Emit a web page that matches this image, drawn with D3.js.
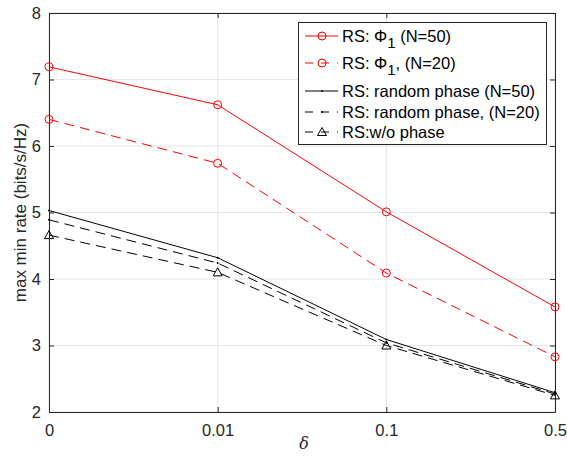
<!DOCTYPE html>
<head>
  <meta charset="utf-8">
  <script src="https://d3js.org/d3.v7.min.js"></script>
  <style>
    body { margin:0; background:#fff; }
    text { font-family: "Liberation Sans", Arial, sans-serif; }
  </style>
</head>
<body>
  <script>
    // data
    var deltas = ["0", "0.01", "0.1", "0.5"];
    var yTicks = [2, 3, 4, 5, 6, 7, 8];
    var phiN50 = [7.19, 6.62, 5.01, 3.58];
    var phiN20 = [6.40, 5.74, 4.09, 2.83];
    var randN50 = [5.03, 4.32, 3.09, 2.29];
    var randN20 = [4.89, 4.24, 3.04, 2.27];
    var noPhase = [4.66, 4.10, 3.00, 2.25];

    var series = [
      {values: phiN50, color: "#ff0000", dash: null, marker: "circle"},
      {values: phiN20, color: "#ff0000", dash: "10,6", marker: "circle"},
      {values: randN50, color: "#000", dash: null, marker: "dot"},
      {values: randN20, color: "#000", dash: "10,6", marker: "dot"},
      {values: noPhase, color: "#000", dash: "10,6", marker: "triangle"}
    ];

    var margin = {top: 13, right: 12, bottom: 44, left: 49},
        width = 567 - margin.left - margin.right,
        height = 456 - margin.top - margin.bottom;

    var svg = d3.select("body").append("svg")
        .attr("width", 567)
        .attr("height", 456);
    var g = svg.append("g")
        .attr("transform", "translate(" + margin.left + "," + margin.top + ")");

    var x = d3.scalePoint().domain(deltas).range([0, width]);
    var y = d3.scaleLinear().domain([2, 8]).range([height, 0]);

    // grid
    g.selectAll(".gx").data(deltas).enter().append("line")
      .attr("x1", function(d) { return x(d); }).attr("x2", function(d) { return x(d); })
      .attr("y1", 0).attr("y2", height)
      .attr("stroke", "#e6e6e6");
    g.selectAll(".gy").data(yTicks).enter().append("line")
      .attr("x1", 0).attr("x2", width)
      .attr("y1", function(d) { return y(d); }).attr("y2", function(d) { return y(d); })
      .attr("stroke", "#e6e6e6");

    // axes, ticks pointing inward
    g.append("g")
      .attr("transform", "translate(0," + height + ")")
      .call(d3.axisBottom(x).tickSizeInner(-5).tickSizeOuter(0).tickPadding(12));
    g.append("g")
      .call(d3.axisLeft(y).tickValues(yTicks).tickFormat(d3.format("d")).tickSizeInner(-5).tickSizeOuter(0).tickPadding(8));
    g.append("g").attr("transform", "translate(" + width + ",0)")
      .call(d3.axisRight(y).tickValues(yTicks).tickSizeInner(-5).tickSizeOuter(0).tickFormat(""));
    g.append("g")
      .call(d3.axisTop(x).tickSizeInner(-5).tickSizeOuter(0).tickFormat(""));
    g.selectAll(".domain").attr("stroke", "#262626");
    g.selectAll(".tick line").attr("stroke", "#262626");
    g.selectAll(".tick text").attr("fill", "#262626").style("font-size", "16.5px")
      .style("font-family", "Liberation Sans, Arial, sans-serif");

    // axis titles
    svg.append("text")
      .attr("x", margin.left + width / 2 + 2).attr("y", 449)
      .attr("text-anchor", "middle")
      .style("font-family", "DejaVu Serif, serif").style("font-style", "italic")
      .style("font-size", "16px").attr("fill", "#262626")
      .text("δ");
    svg.append("text")
      .attr("transform", "translate(26," + (margin.top + height / 2) + ") rotate(-90)")
      .attr("text-anchor", "middle")
      .style("font-size", "17px").attr("fill", "#262626")
      .text("max min rate (bits/s/Hz)");

    // lines
    var line = d3.line()
      .x(function(d, i) { return x(deltas[i]); })
      .y(function(d) { return y(d); });

    series.forEach(function(s) {
      g.append("path")
        .datum(s.values)
        .attr("fill", "none")
        .attr("stroke", s.color)
        .attr("stroke-width", 1)
        .attr("stroke-dasharray", s.dash)
        .attr("d", line);
      drawMarkers(g, s, s.values.map(function(v, i) { return [x(deltas[i]), y(v)]; }));
    });

    function drawMarkers(sel, s, pts) {
      pts.forEach(function(p) {
        if (s.marker === "circle") {
          sel.append("circle").attr("cx", p[0]).attr("cy", p[1]).attr("r", 4)
            .attr("fill", "none").attr("stroke", s.color);
        } else if (s.marker === "triangle") {
          sel.append("path")
            .attr("d", "M" + p[0] + "," + (p[1] - 4.5) + "L" + (p[0] + 4.5) + "," + (p[1] + 3.5) + "L" + (p[0] - 4.5) + "," + (p[1] + 3.5) + "Z")
            .attr("fill", "none").attr("stroke", s.color);
        } else {
          sel.append("circle").attr("cx", p[0]).attr("cy", p[1]).attr("r", 1)
            .attr("fill", s.color);
        }
      });
    }

    // legend
    var leg = svg.append("g").attr("transform", "translate(298,22)");
    leg.append("rect").attr("x", 0.5).attr("y", 0.5).attr("width", 248).attr("height", 122)
      .attr("fill", "#fff").attr("stroke", "#262626");
    var rowY = [14, 41, 69, 90, 110];
    series.forEach(function(s, i) {
      var ly = rowY[i];
      leg.append("line").attr("x1", 7).attr("x2", 40).attr("y1", ly).attr("y2", ly)
        .attr("stroke", s.color).attr("stroke-dasharray", s.dash ? "8,8" : null);
      drawMarkers(leg, s, [[24, ly]]);
      var t = leg.append("text").attr("x", 44).attr("y", ly + 6)
        .style("font-size", "16.5px").attr("fill", "#000");
      if (i === 0 || i === 1) {
        t.append("tspan").text("RS: Φ");
        t.append("tspan").attr("dy", 6).style("font-size", "15px").text("1");
        t.append("tspan").attr("dy", -6).text(i === 0 ? " (N=50)" : ", (N=20)");
      } else if (i === 2) {
        t.text("RS: random phase (N=50)");
      } else if (i === 3) {
        t.text("RS: random phase, (N=20)");
      } else {
        t.text("RS:w/o phase");
      }
    });
  </script>
</body>
